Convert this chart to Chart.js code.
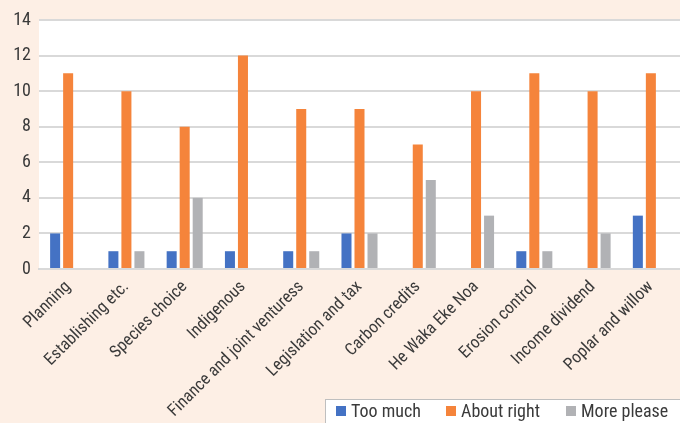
<!DOCTYPE html>
<html>
<head>
<meta charset="utf-8">
<script src="https://cdn.jsdelivr.net/npm/chart.js@4/dist/chart.umd.min.js"></script>
<style>
  html, body { margin: 0; padding: 0; background: #fdefe5; }
  #wrap { width: 680px; height: 423px; position: relative; }
</style>
</head>
<body>
<div id="wrap"><canvas id="c" width="680" height="423"></canvas></div>
<script>
const categories = [
  'Planning', 'Establishing etc.', 'Species choice', 'Indigenous',
  'Finance and joint venturess', 'Legislation and tax', 'Carbon credits',
  'He Waka Eke Noa', 'Erosion control', 'Income dividend', 'Poplar and willow'
];
const tooMuch    = [2, 1, 1, 1, 1, 2, 0, 0, 1, 0, 3];
const aboutRight = [11, 10, 8, 12, 9, 9, 7, 10, 11, 10, 11];
const morePlease = [0, 1, 4, 0, 1, 2, 5, 3, 1, 2, 0];
const yTicks = [0, 2, 4, 6, 8, 10, 12, 14];

const FONT = "'Roboto Condensed', 'DejaVu Sans Condensed', 'Liberation Sans', sans-serif";
const TEXT = '#3a3a3a';

// White plot background behind the bars
const plotBackground = {
  id: 'plotBackground',
  beforeDraw(chart) {
    const { ctx, chartArea: a } = chart;
    ctx.save();
    ctx.fillStyle = '#ffffff';
    ctx.fillRect(a.left, a.top, a.right - a.left, a.bottom - a.top);
    ctx.restore();
  }
};

// Boxed legend in the bottom-right corner
const boxedLegend = {
  id: 'boxedLegend',
  afterDraw(chart) {
    const { ctx } = chart;
    const x0 = 325, y0 = 399, w = 356, h = 26;
    ctx.save();
    ctx.fillStyle = '#ffffff';
    ctx.fillRect(x0, y0, w, h);
    ctx.strokeStyle = '#bfbfbf';
    ctx.lineWidth = 1;
    ctx.strokeRect(x0 + 0.5, y0 + 0.5, w, h);
    ctx.font = '18px ' + FONT;
    ctx.textBaseline = 'middle';
    const starts = [336, 446, 566];
    chart.data.datasets.forEach((ds, i) => {
      const x = starts[i];
      ctx.fillStyle = ds.backgroundColor;
      ctx.fillRect(x, 406, 10, 10);
      ctx.fillStyle = TEXT;
      ctx.fillText(ds.label, x + 15, 412);
    });
    ctx.restore();
  }
};

new Chart(document.getElementById('c'), {
  type: 'bar',
  data: {
    labels: categories,
    datasets: [
      { label: 'Too much',    data: tooMuch,    backgroundColor: '#4472c4' },
      { label: 'About right', data: aboutRight, backgroundColor: '#f5843b' },
      { label: 'More please', data: morePlease, backgroundColor: '#b1b2b5' }
    ]
  },
  options: {
    responsive: false,
    animation: false,
    layout: { padding: { top: 20, right: 0, left: 0, bottom: 0 } },
    datasets: {
      bar: { categoryPercentage: 0.67, barPercentage: 0.77 }
    },
    plugins: {
      legend: { display: false },
      tooltip: { enabled: false }
    },
    scales: {
      x: {
        grid: { display: false, drawTicks: false },
        border: { color: '#d9d9d9', width: 2 },
        ticks: {
          color: TEXT,
          font: { family: FONT, size: 17 },
          minRotation: 45,
          maxRotation: 45,
          autoSkip: false,
          padding: 8
        },
        afterFit(scale) { scale.height = 154; }
      },
      y: {
        min: 0,
        max: 14,
        afterBuildTicks(scale) { scale.ticks = yTicks.map(v => ({ value: v })); },
        grid: { color: '#d9d9d9', lineWidth: 2, drawTicks: false },
        border: { display: false },
        ticks: {
          color: TEXT,
          font: { family: FONT, size: 18 },
          padding: 8
        },
        afterFit(scale) { scale.width = 39; }
      }
    }
  },
  plugins: [plotBackground, boxedLegend]
});
</script>
</body>
</html>
